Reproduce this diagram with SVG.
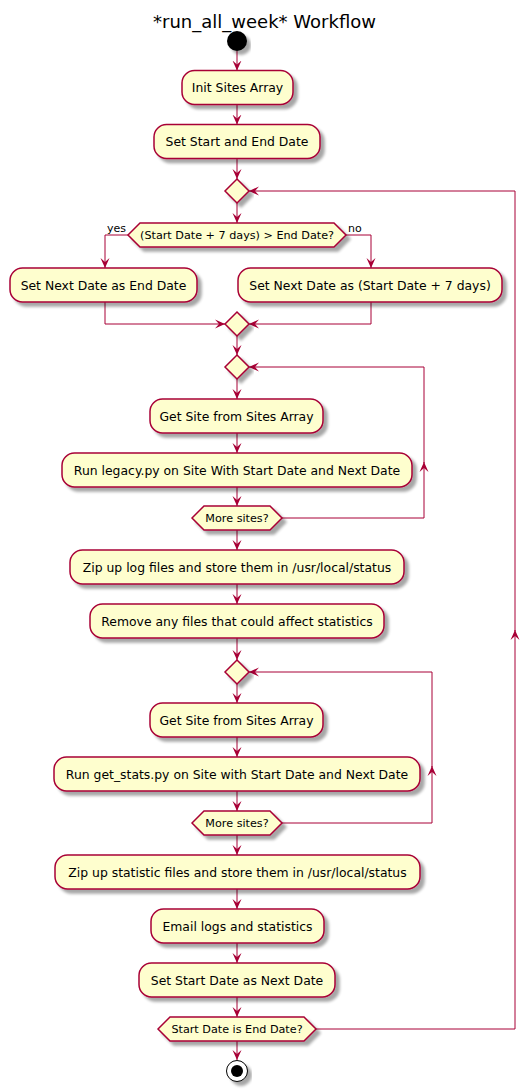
<svg xmlns="http://www.w3.org/2000/svg" width="529" height="1092" viewBox="0 0 529 1092">
<defs>
<filter id="sh" x="-10%" y="-20%" width="130%" height="160%">
<feGaussianBlur in="SourceAlpha" stdDeviation="1.8"/>
<feOffset dx="3.5" dy="3.5" result="b"/>
<feComponentTransfer><feFuncA type="linear" slope="0.35"/></feComponentTransfer>
<feMerge><feMergeNode/><feMergeNode in="SourceGraphic"/></feMerge>
</filter>
<marker id="ah" viewBox="0 -5 10 10" refX="10" refY="0" markerWidth="10" markerHeight="10" markerUnits="userSpaceOnUse" orient="auto">
<path d="M10,0 L0,-4.5 L4,0 L0,4.5 Z" fill="#A80036"/>
</marker>
</defs>
<style>
.box{fill:#FEFECE;stroke:#A80036;stroke-width:1.5;filter:url(#sh)}
.t{font-family:"DejaVu Sans",sans-serif;font-size:12.4px;fill:#000;text-anchor:middle}
.s{font-family:"DejaVu Sans",sans-serif;font-size:11.2px;fill:#000;text-anchor:middle}
.l{font-family:"DejaVu Sans",sans-serif;font-size:11px;fill:#000}
.c{fill:none;stroke:#A80036;stroke-width:1;marker-end:url(#ah)}
</style>
<rect width="529" height="1092" fill="#fff"/>
<text x="264.5" y="27.5" style="font-family:'DejaVu Sans',sans-serif;font-size:18px;text-anchor:middle">*run_all_week* Workflow</text>

<g id="connectors">
<path class="c" d="M237,51 V70.5"/>
<path class="c" d="M237,104.5 V124.5"/>
<path class="c" d="M237,158.5 V179"/>
<path class="c" d="M237,203 V223"/>
<path class="c" d="M128,235 H105 V268"/>
<path class="c" d="M346,235 H371 V268"/>
<path class="c" d="M105,302 V324 H225"/>
<path class="c" d="M371,302 V324 H249"/>
<path class="c" d="M237,336 V355"/>
<path class="c" d="M237,379 V399"/>
<path class="c" d="M237,433 V453"/>
<path class="c" d="M237,487 V506"/>
<path class="c" d="M282,518 H424 V462"/>
<path class="c" d="M424,463 V367 H249"/>
<path class="c" d="M237,530 V550"/>
<path class="c" d="M237,584 V604"/>
<path class="c" d="M237,638 V660"/>
<path class="c" d="M237,684 V703"/>
<path class="c" d="M237,737 V757"/>
<path class="c" d="M237,791 V811"/>
<path class="c" d="M282,823 H432 V766"/>
<path class="c" d="M432,767 V672 H249"/>
<path class="c" d="M237,835 V855"/>
<path class="c" d="M237,889 V909"/>
<path class="c" d="M237,943 V963"/>
<path class="c" d="M237,997 V1017"/>
<path class="c" d="M237,1041 V1060"/>
<path class="c" d="M316,1029 H515 V630"/>
<path class="c" d="M515,631 V191 H249"/>
</g>
<text class="l" x="107" y="232">yes</text>
<text class="l" x="348" y="232">no</text>

<g id="start"><circle cx="237" cy="41" r="10" fill="#000" filter="url(#sh)"/></g>
<g id="n_init"><rect class="box" x="182" y="70.5" width="111" height="34" rx="12.5"/><text class="t" x="237.5" y="92">Init Sites Array</text></g>
<g id="n_setdates"><rect class="box" x="154" y="124.5" width="166" height="34" rx="12.5"/><text class="t" x="237" y="146">Set Start and End Date</text></g>
<g id="merge1"><polygon class="box" points="237,179 249,191 237,203 225,191"/></g>
<g id="dec1"><polygon class="box" points="128,235 140,223 334,223 346,235 334,247 140,247"/><text class="s" x="237" y="239">(Start Date + 7 days) &gt; End Date?</text></g>
<g id="n_enddate"><rect class="box" x="10" y="268" width="187" height="34" rx="12.5"/><text class="t" x="103.5" y="289.5">Set Next Date as End Date</text></g>
<g id="n_plus7"><rect class="box" x="238" y="268" width="264" height="34" rx="12.5"/><text class="t" x="370" y="289.5">Set Next Date as (Start Date + 7 days)</text></g>
<g id="merge2"><polygon class="box" points="237,312 249,324 237,336 225,324"/></g>
<g id="loop1"><polygon class="box" points="237,355 249,367 237,379 225,367"/></g>
<g id="n_getsite1"><rect class="box" x="150" y="399" width="173" height="34" rx="12.5"/><text class="t" x="236.5" y="420.5">Get Site from Sites Array</text></g>
<g id="n_legacy"><rect class="box" x="62" y="453" width="350" height="34" rx="12.5"/><text class="t" x="237" y="474.5">Run legacy.py on Site With Start Date and Next Date</text></g>
<g id="dec2"><polygon class="box" points="192,518 204,506 270,506 282,518 270,530 204,530"/><text class="s" x="237" y="522">More sites?</text></g>
<g id="n_ziplog"><rect class="box" x="70" y="550" width="334" height="34" rx="12.5"/><text class="t" x="237" y="571.5">Zip up log files and store them in /usr/local/status</text></g>
<g id="n_remove"><rect class="box" x="90" y="604" width="294" height="34" rx="12.5"/><text class="t" x="237" y="625.5">Remove any files that could affect statistics</text></g>
<g id="loop2"><polygon class="box" points="237,660 249,672 237,684 225,672"/></g>
<g id="n_getsite2"><rect class="box" x="150" y="703" width="173" height="34" rx="12.5"/><text class="t" x="236.5" y="724.5">Get Site from Sites Array</text></g>
<g id="n_getstats"><rect class="box" x="54" y="757" width="366" height="34" rx="12.5"/><text class="t" x="237" y="778.5">Run get_stats.py on Site with Start Date and Next Date</text></g>
<g id="dec3"><polygon class="box" points="192,823 204,811 270,811 282,823 270,835 204,835"/><text class="s" x="237" y="827">More sites?</text></g>
<g id="n_zipstat"><rect class="box" x="55" y="855" width="365" height="34" rx="12.5"/><text class="t" x="237.5" y="876.5">Zip up statistic files and store them in /usr/local/status</text></g>
<g id="n_email"><rect class="box" x="151" y="909" width="173" height="34" rx="12.5"/><text class="t" x="237.5" y="930.5">Email logs and statistics</text></g>
<g id="n_setstart"><rect class="box" x="139" y="963" width="196" height="34" rx="12.5"/><text class="t" x="237" y="984.5">Set Start Date as Next Date</text></g>
<g id="dec4"><polygon class="box" points="158,1029 170,1017 304,1017 316,1029 304,1041 170,1041"/><text class="s" x="237" y="1033">Start Date is End Date?</text></g>
<g id="stop"><circle cx="237" cy="1071" r="10.5" fill="#fff" stroke="#000" stroke-width="1" filter="url(#sh)"/><circle cx="237" cy="1071" r="6" fill="#000"/></g>
</svg>
